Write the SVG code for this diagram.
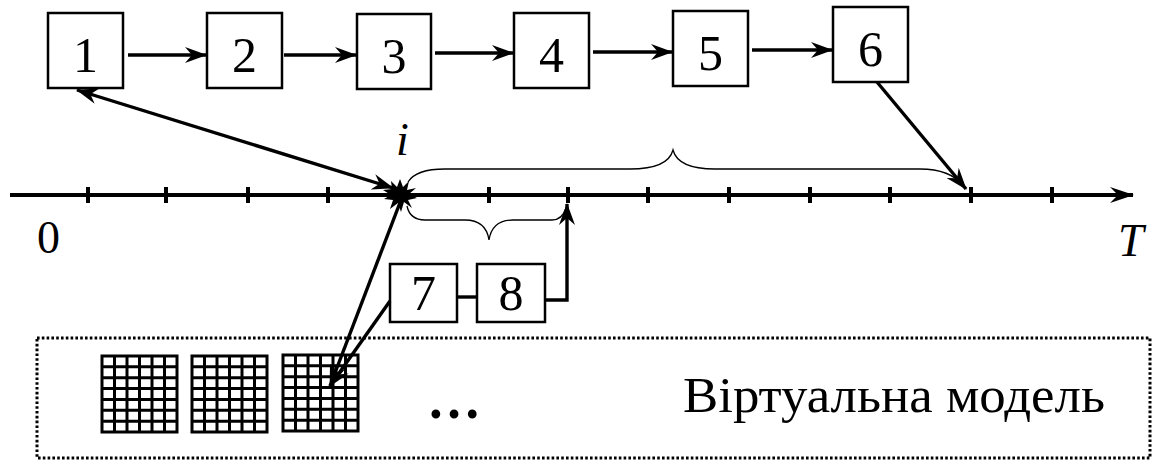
<svg xmlns="http://www.w3.org/2000/svg" width="1157" height="461" viewBox="0 0 1157 461" font-family="'Liberation Serif', 'Times New Roman', 'DejaVu Serif', serif">
  <style>
    text { font-family: 'Liberation Serif', 'Times New Roman', 'DejaVu Serif', serif; fill: #000; }
    .box { fill: #fff; stroke: #000; stroke-width: 2.5; }
    .num { font-size: 50px; text-anchor: middle; }
    .lbl { font-size: 46px; }
    .wire { fill: none; stroke: #000; stroke-width: 3.4; }
    .axis { fill: none; stroke: #000; stroke-width: 4; }
    .tick { stroke: #000; stroke-width: 4; }
    .brace { fill: none; stroke: #000; stroke-width: 1.3; }
    .grid { fill: none; stroke: #000; stroke-width: 3; }
  </style>
  <defs>
    <marker id="ah" viewBox="0 0 22 16" refX="21" refY="8" markerWidth="22" markerHeight="16" markerUnits="userSpaceOnUse" orient="auto-start-reverse">
      <path d="M0,0 L22,8 L0,16 L7,8 z" fill="#000"/>
    </marker>
    <marker id="ahBig" viewBox="0 0 24 16" refX="23" refY="8" markerWidth="24" markerHeight="16" markerUnits="userSpaceOnUse" orient="auto">
      <path d="M0,0 L24,8 L0,16 L8,8 z" fill="#000"/>
    </marker>
    <!-- 6 x 7 cell grid used for the model layers -->
    <g id="gridCell">
      <path class="grid" d="M12.5,0V76 M25,0V76 M37.5,0V76 M50,0V76 M62.5,0V76
                            M0,10.86H75 M0,21.71H75 M0,32.57H75 M0,43.43H75 M0,54.29H75 M0,65.14H75"/>
      <rect x="0" y="0" width="75" height="76" class="grid" stroke-width="4"/>
    </g>
  </defs>

  <rect width="1157" height="461" fill="#fff"/>

  <!-- virtual model frame -->
  <g id="model">
    <rect x="37" y="338" width="1113" height="120" fill="none" stroke="#000" stroke-width="3" stroke-dasharray="2.6 2.2"/>
    <use href="#gridCell" x="102" y="356"/>
    <use href="#gridCell" x="192" y="356"/>
    <use href="#gridCell" x="283" y="355"/>
    <text x="427" y="418" font-size="54" font-weight="bold">…</text>
    <text x="683" y="412" font-size="50" textLength="422" lengthAdjust="spacingAndGlyphs">Віртуальна модель</text>
  </g>

  <!-- time axis -->
  <g id="axis">
    <line class="axis" x1="10" y1="195" x2="1133" y2="195" marker-end="url(#ahBig)"/>
    <path class="tick" d="M88,187V203 M166,187V203 M248,187V203 M328,187V203 M489,187V203 M568,187V203 M648,187V203 M729,187V203 M810,187V203 M890,187V203 M971,187V203 M1052,187V203"/>
    <text class="lbl" x="37" y="253">0</text>
    <text class="lbl" x="1118" y="256" font-style="italic">T</text>
    <text class="lbl" x="396" y="155" font-style="italic">i</text>
  </g>

  <!-- braces -->
  <g id="braces">
    <path class="brace" d="M408,182 Q416,169 445,169 L630,169 Q668,169 673,150 Q678,169 715,169 L920,169 Q950,169 964,186"/>
    <path class="brace" d="M407,206 Q410,220 425,220 L465,220 Q486,220 489,240 Q492,220 513,220 L552,220 Q562,220 566,208"/>
  </g>

  <!-- event marker -->
  <g id="event">
    <polygon fill="#000" points="400,179 403,187 409,181 407,190 416,188 409,194 417,198 408,200 412,208 404,202 401,212 398,203 390,209 393,200 384,199 391,195 383,190 392,189 391,181 397,187"/>
  </g>

  <!-- process blocks -->
  <g id="node1"><rect class="box" x="48" y="13" width="75" height="75"/><text class="num" x="85.5" y="72">1</text></g>
  <g id="node2"><rect class="box" x="207" y="13" width="75" height="75"/><text class="num" x="244.5" y="72">2</text></g>
  <g id="node3"><rect class="box" x="357" y="14" width="74" height="75"/><text class="num" x="394" y="73">3</text></g>
  <g id="node4"><rect class="box" x="514" y="13" width="75" height="75"/><text class="num" x="551.5" y="72">4</text></g>
  <g id="node5"><rect class="box" x="673" y="11" width="75" height="75"/><text class="num" x="710.5" y="70">5</text></g>
  <g id="node6"><rect class="box" x="833" y="7" width="75" height="75"/><text class="num" x="870.5" y="66">6</text></g>
  <g id="node7"><rect class="box" x="390" y="264" width="67" height="58"/><text class="num" x="423.5" y="310">7</text></g>
  <g id="node8"><rect class="box" x="477" y="264" width="68" height="58"/><text class="num" x="511" y="310">8</text></g>

  <!-- connectors -->
  <g id="connectors">
    <line class="wire" x1="128" y1="55" x2="206" y2="55" marker-end="url(#ah)"/>
    <line class="wire" x1="284" y1="55" x2="356" y2="55" marker-end="url(#ah)"/>
    <line class="wire" x1="435" y1="53" x2="513" y2="53" marker-end="url(#ah)"/>
    <line class="wire" x1="593" y1="52" x2="672" y2="52" marker-end="url(#ah)"/>
    <line class="wire" x1="752" y1="50" x2="832" y2="50" marker-end="url(#ah)"/>
    <line class="wire" x1="77" y1="90" x2="393" y2="188" marker-start="url(#ah)" marker-end="url(#ah)"/>
    <line class="wire" x1="877" y1="82" x2="966" y2="189" marker-end="url(#ah)"/>
    <line class="wire" x1="457" y1="297" x2="477" y2="297"/>
    <polyline class="wire" points="545,300 567,300 567,204" marker-end="url(#ah)"/>
    <line class="wire" x1="401" y1="200" x2="330" y2="386" marker-end="url(#ah)"/>
    <line class="wire" x1="390" y1="301" x2="330" y2="386" marker-end="url(#ah)"/>
  </g>
</svg>
